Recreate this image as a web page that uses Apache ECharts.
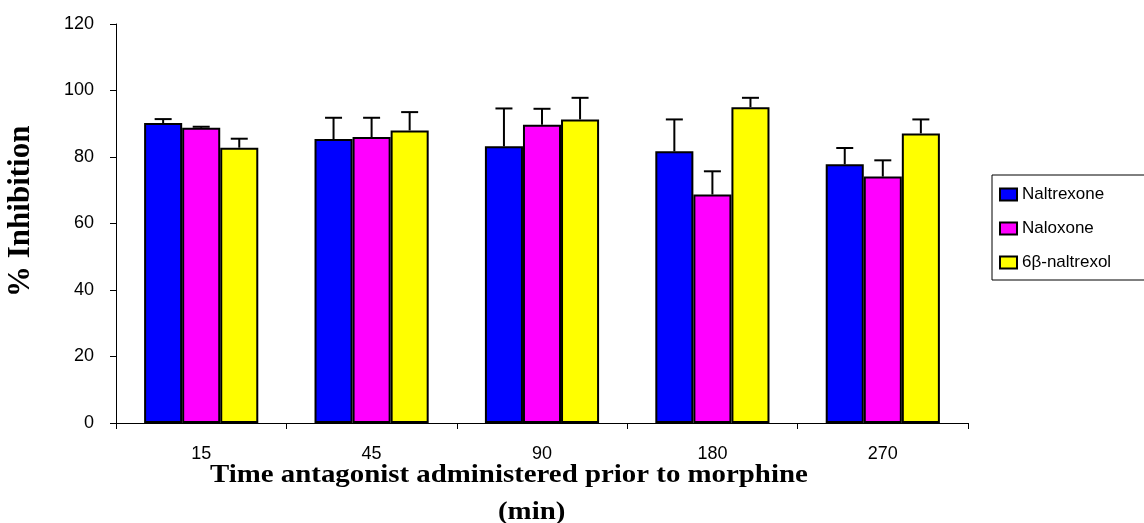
<!DOCTYPE html>
<html>
<head>
<meta charset="utf-8">
<script src="https://cdn.jsdelivr.net/npm/echarts@6/dist/echarts.min.js"></script>
<style>
  html, body { margin: 0; padding: 0; background: #fff; }
  #chart { width: 1144px; height: 523px; }
</style>
</head>
<body>
<div id="chart"></div>
<script>
// Time (min) at which the antagonist was given before morphine
var categories = ['15', '45', '90', '180', '270'];
var seriesNames = ['Naltrexone', 'Naloxone', '6\u03b2-naltrexol'];

// Mean % inhibition for each antagonist
var naltrexone = [90.2, 85.4, 83.2, 81.7, 77.8];
var naloxone   = [88.8, 86.0, 89.7, 68.7, 74.1];
var naltrexol  = [82.8, 88.0, 91.3, 95.0, 87.1];

// Upper error (SEM) for each antagonist
var naltrexoneErr = [1.2, 6.4, 11.4, 9.6, 4.9];
var naloxoneErr   = [0.3, 5.8, 4.8, 7.0, 4.9];
var naltrexolErr  = [2.7, 5.5, 6.5, 2.8, 4.2];

var yTicks = { min: 0, max: 120, interval: 20 };

var colors = ['#0000ff', '#ff00ff', '#ffff00'];
var means = [naltrexone, naloxone, naltrexol];
var errs = [naltrexoneErr, naloxoneErr, naltrexolErr];
var categoryGap = 0.33;

var chart = echarts.init(document.getElementById('chart'));

var series = [];
means.forEach(function (vals, s) {
  series.push({
    name: seriesNames[s],
    type: 'bar',
    data: vals,
    barGap: '0%',
    barCategoryGap: (categoryGap * 100) + '%',
    itemStyle: { color: colors[s], borderColor: '#000', borderWidth: 2 },
    z: 2
  });
});

// Upper error whiskers with caps, placed over each grouped bar
means.forEach(function (vals, s) {
  var data = vals.map(function (v, i) { return [i, v, v + errs[s][i]]; });
  series.push({
    type: 'custom',
    name: seriesNames[s] + ' error',
    data: data,
    z: 5,
    silent: true,
    encode: { x: 0, y: [1, 2] },
    renderItem: function (params, api) {
      var idx = api.value(0);
      var base = api.coord([idx, api.value(1)]);
      var top = api.coord([idx, api.value(2)]);
      var band = api.size([1, 0])[0];
      var barW = band * (1 - categoryGap) / 3;
      var x = base[0] + (s - 1) * barW;
      var cap = 8.5;
      var st = { stroke: '#000', lineWidth: 2 };
      return {
        type: 'group',
        children: [
          { type: 'line', shape: { x1: x, y1: base[1], x2: x, y2: top[1] }, style: st },
          { type: 'line', shape: { x1: x - cap, y1: top[1], x2: x + cap, y2: top[1] }, style: st }
        ]
      };
    }
  });
});

chart.setOption({
  backgroundColor: '#fff',
  animation: false,
  grid: { left: 116, right: 176, top: 24, bottom: 100, containLabel: false },
  legend: {
    data: seriesNames,
    orient: 'vertical',
    left: 992,
    top: 175,
    icon: 'rect',
    itemWidth: 17,
    itemHeight: 12,
    itemGap: 17,
    padding: [11, 40, 9, 7],
    borderColor: '#000',
    borderWidth: 1,
    textStyle: { fontFamily: 'Liberation Sans', fontSize: 17, color: '#000' }
  },
  xAxis: {
    type: 'category',
    data: categories,
    axisLine: { lineStyle: { color: '#000', width: 1 } },
    axisTick: { show: true, length: 6, lineStyle: { color: '#000' } },
    axisLabel: { fontFamily: 'Liberation Sans', fontSize: 18, color: '#000', margin: 22 }
  },
  yAxis: {
    type: 'value',
    min: yTicks.min,
    max: yTicks.max,
    interval: yTicks.interval,
    splitLine: { show: false },
    axisLine: { show: true, lineStyle: { color: '#000', width: 1 } },
    axisTick: { show: true, length: 6, lineStyle: { color: '#000' } },
    axisLabel: { fontFamily: 'Liberation Sans', fontSize: 18, color: '#000', margin: 22 }
  },
  graphic: [
    {
      type: 'text',
      x: 210,
      y: 462,
      scaleX: 1.11,
      style: {
        text: 'Time antagonist administered prior to morphine',
        font: 'bold 26px "Liberation Serif"',
        fill: '#000'
      }
    },
    {
      type: 'text',
      x: 498,
      y: 499,
      scaleX: 1.11,
      style: { text: '(min)', font: 'bold 26px "Liberation Serif"', fill: '#000' }
    },
    {
      type: 'text',
      x: 5,
      y: 297,
      rotation: Math.PI / 2,
      style: { text: '% Inhibition', font: 'bold 31px "Liberation Serif"', fill: '#000' }
    }
  ],
  series: series
});
</script>
</body>
</html>
